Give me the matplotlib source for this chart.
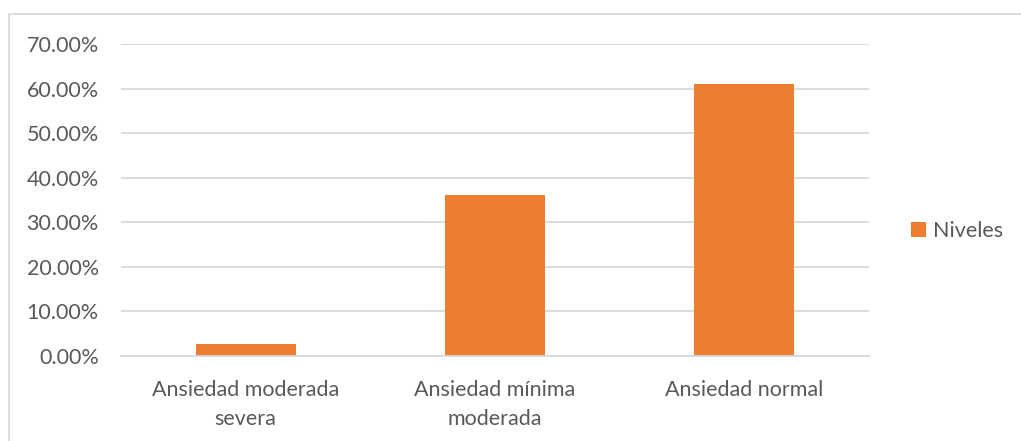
import matplotlib
matplotlib.use("Agg")
import matplotlib.pyplot as plt
from matplotlib.patches import Rectangle
from matplotlib.ticker import FuncFormatter
import numpy as np

categories = ["Ansiedad moderada\nsevera", "Ansiedad mínima\nmoderada", "Ansiedad normal"]
values = [0.0278, 0.3611, 0.6111]
series_name = "Niveles"
yticks = [0.0, 0.1, 0.2, 0.3, 0.4, 0.5, 0.6, 0.7]

plt.rcParams['font.family'] = ['Lato', 'DejaVu Sans']
txt = '#595959'
grid = '#d9d9d9'
orange = '#ED7D31'
fs = 15.5

fig = plt.figure(figsize=(10.21, 4.41), dpi=100)
W, H = 1021, 441
ax = fig.add_axes([121 / W, 1 - 356 / H, (869 - 121) / W, (356 - 44) / H])

x = np.arange(len(categories))
ax.bar(x, values, width=0.4, color=orange, label=series_name, zorder=3)
ax.set_xlim(-0.5, len(categories) - 0.5)
ax.set_ylim(0, 0.7)
ax.set_yticks(yticks)
ax.yaxis.set_major_formatter(FuncFormatter(lambda v, p: f"{v*100:.2f}%"))
ax.set_xticks(x)
ax.set_xticklabels(categories, linespacing=1.6)
ax.tick_params(axis='both', length=0, labelsize=fs, colors=txt)
ax.tick_params(axis='y', pad=16)
ax.tick_params(axis='x', pad=17)
ax.grid(axis='y', color=grid, linewidth=1.3, zorder=0)
for s in ['left', 'right', 'top']:
    ax.spines[s].set_visible(False)
ax.spines['bottom'].set_color(grid)
ax.spines['bottom'].set_linewidth(1.3)
ax.spines['bottom'].set_zorder(4)

leg = ax.legend(loc='center left', bbox_to_anchor=(900 / W, 1 - 231 / H),
                bbox_transform=fig.transFigure, frameon=False, fontsize=fs,
                handlelength=0.7, handleheight=0.7, handletextpad=0.35, borderpad=0)
for t in leg.get_texts():
    t.set_color(txt)

fig.patches.append(Rectangle((9 / W, -0.1), 1.2, 1 - 14 / H + 0.1, transform=fig.transFigure,
                             fill=False, edgecolor=grid, linewidth=1.3, figure=fig))

fig.savefig("out.png", dpi=100)
